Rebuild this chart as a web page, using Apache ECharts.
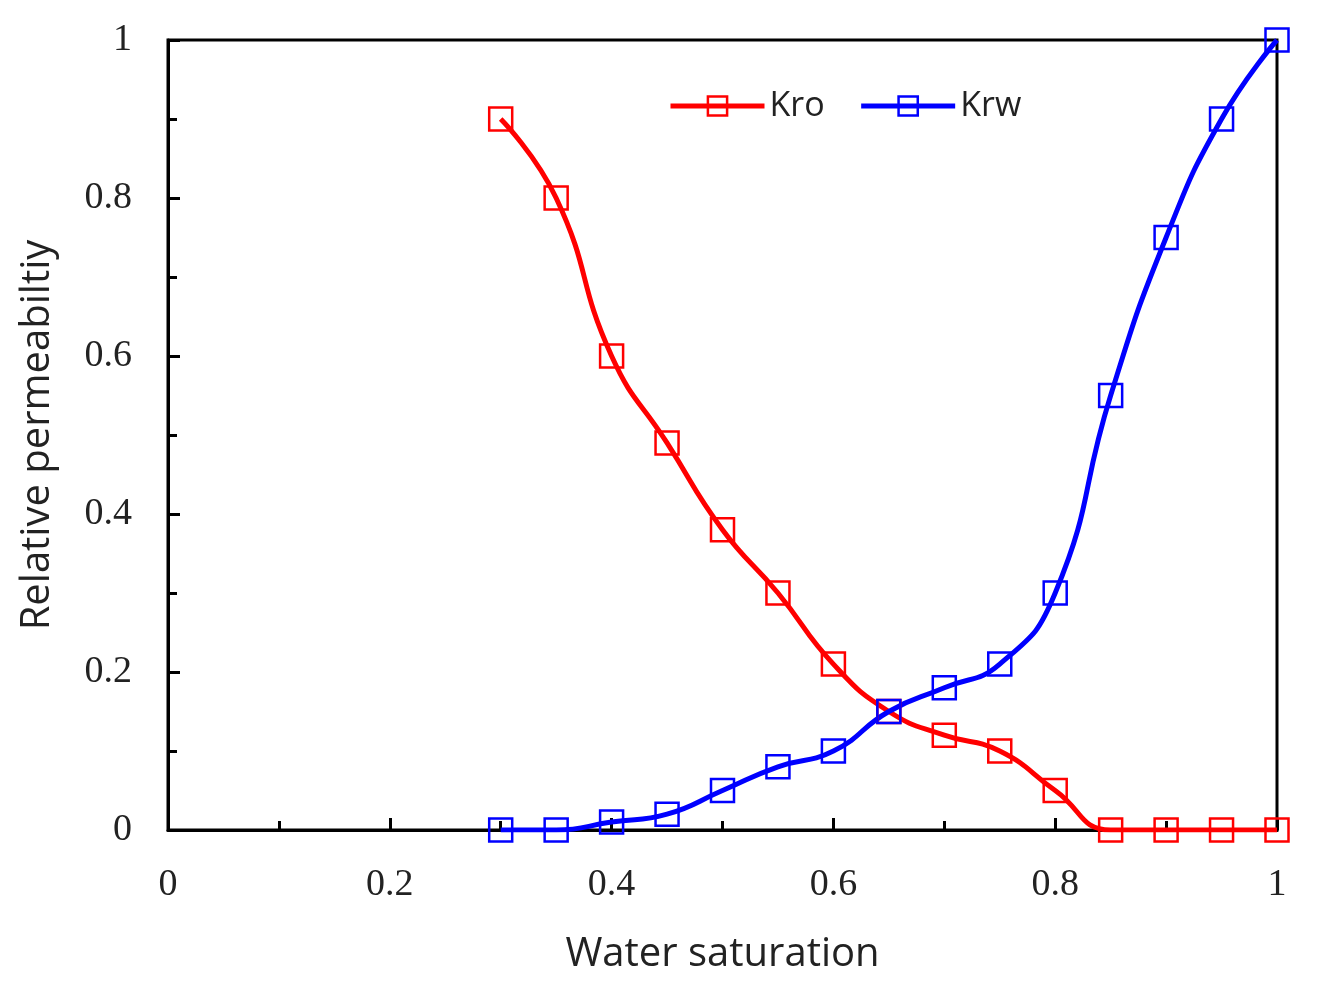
<!DOCTYPE html>
<html><head><meta charset="utf-8">
<script src="https://cdn.jsdelivr.net/npm/echarts@6/dist/echarts.min.js"></script>
<style>html,body{margin:0;padding:0;background:#fff}#c{width:1322px;height:990px}</style>
</head><body><div id="c"></div>
<script>
var sw = [0.3,0.35,0.4,0.45,0.5,0.55,0.6,0.65,0.7,0.75,0.8,0.85,0.9,0.95,1.0];
var kro = [0.9,0.8,0.6,0.49,0.38,0.3,0.21,0.15,0.12,0.1,0.05,0,0,0,0];
var krw = [0,0,0.01,0.02,0.05,0.08,0.1,0.15,0.18,0.21,0.3,0.55,0.75,0.9,1.0];
var xTicks = [0,0.2,0.4,0.6,0.8,1];
var yTicks = [0,0.2,0.4,0.6,0.8,1];

function pairs(xs, ys){ return xs.map(function(x,i){return [x, ys[i]];}); }
function fmt(v){ return String(Math.round(v*10)/10); }

var chart = echarts.init(document.getElementById('c'));
var labelFont = {fontFamily:'Liberation Serif', fontSize:38, color:'#222'};
function mkSeries(name, data, col){
  return {
    name:name, type:'line', data:data, smooth:0.5,
    symbol:'rect', symbolSize:23,
    lineStyle:{color:col, width:5},
    itemStyle:{color:'rgba(255,255,255,0)', borderColor:col, borderWidth:2.5, opacity:1},
    emphasis:{disabled:true}, z:3
  };
}
chart.setOption({
  animation:false,
  backgroundColor:'#fff',
  grid:{left:168, right:45, top:40, bottom:160, show:true, borderColor:'#000', borderWidth:3, backgroundColor:'transparent'},
  legend:{
    top:84, left:663, itemWidth:94, itemHeight:24, itemGap:34,
    textStyle:{fontFamily:'Open Sans', fontSize:34, color:'#222', padding:[0,0,0,0]},
    data:[
      {name:'Kro', itemStyle:{color:'rgba(255,255,255,0)', borderColor:'#ff0000', borderWidth:2.5}, lineStyle:{color:'#ff0000', width:5}},
      {name:'Krw', itemStyle:{color:'rgba(255,255,255,0)', borderColor:'#0000ff', borderWidth:2.5}, lineStyle:{color:'#0000ff', width:5}}
    ]
  },
  xAxis:{
    type:'value', min:0, max:1, interval:0.2,
    name:'Water saturation', nameLocation:'middle', nameGap:105,
    nameTextStyle:{fontFamily:'Open Sans', fontSize:40, color:'#222'},
    axisLine:{show:true, lineStyle:{color:'#000', width:3}},
    axisTick:{show:true, inside:true, length:12, lineStyle:{color:'#000', width:3}},
    minorTick:{show:true, splitNumber:2, length:9, lineStyle:{color:'#000', width:3}},
    axisLabel:Object.assign({margin:36, formatter:fmt, customValues:xTicks}, labelFont),
    splitLine:{show:false}
  },
  yAxis:{
    type:'value', min:0, max:1, interval:0.2,
    name:'Relative permeabiltiy', nameLocation:'middle', nameGap:110,
    nameTextStyle:{fontFamily:'Open Sans', fontSize:40, color:'#222'},
    axisLine:{show:true, lineStyle:{color:'#000', width:3}},
    axisTick:{show:true, inside:true, length:12, lineStyle:{color:'#000', width:3}},
    minorTick:{show:true, splitNumber:2, length:9, lineStyle:{color:'#000', width:3}},
    axisLabel:Object.assign({margin:36, formatter:fmt, customValues:yTicks}, labelFont),
    splitLine:{show:false}
  },
  series:[ mkSeries('Kro', pairs(sw,kro), '#ff0000'), mkSeries('Krw', pairs(sw,krw), '#0000ff') ]
});
</script></body></html>
